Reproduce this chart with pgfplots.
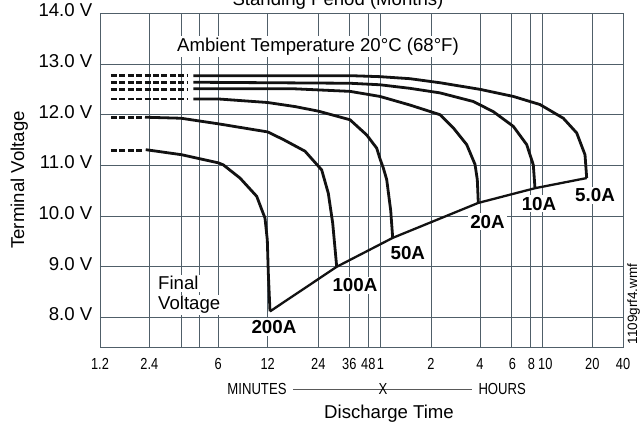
\documentclass[border=0pt]{standalone}
\usepackage{pgfplots}
\pgfplotsset{compat=1.18}
\usepackage{fontspec}
\setmainfont{Liberation Sans}
\newfontfamily\narrowfont[FakeStretch=0.82]{Liberation Sans}
\newfontfamily\tickfont[FakeStretch=0.8]{Liberation Sans}
\definecolor{gridc}{RGB}{80,95,105}
\definecolor{curve}{RGB}{18,18,18}
\newcommand\lbl{\fontsize{18.6bp}{22bp}\selectfont}
\newcommand\lblb{\fontsize{18.8bp}{22bp}\selectfont\bfseries}
\newcommand\tck{\tickfont\fontsize{16bp}{19bp}\selectfont}
\newcommand\mh{\narrowfont\fontsize{16bp}{19bp}\selectfont}
\pgfplotsset{
  crv/.style={curve, line width=2.8bp, line join=round, no marks},
  lead/.style={curve, line width=2.7bp, no marks, dash pattern=on 6bp off 2.4bp},
}
\begin{document}
\begin{tikzpicture}
\begin{axis}[
  scale only axis, width=523bp, height=334.6bp,
  xmin=0, xmax=523, ymin=7.4, ymax=14,
  axis line style={gridc, line width=0.9bp},
  xtick={0,49.3,81,99,118.3,167.7,218.3,249.3,268.3,280.5,331,380,411.5,430.5,442.3,492.3,523},
  xticklabels={1.2,2.4,,,6,12,24,36,48,1,2,4,{\kern2bp 6},{\kern2bp 8},{\kern6bp 10},20,40},
  ytick={8,9,10,11,12,13,14},
  yticklabels={8.0 V,9.0 V,10.0 V,11.0 V,12.0 V,13.0 V,14.0 V},
  major tick length=0pt,
  grid=major,
  major grid style={gridc, line width=0.9bp},
  /pgf/number format/assume math mode=true,
  xticklabel style={font=\tck, anchor=north, inner sep=0pt, yshift=-10.2bp},
  yticklabel style={font=\lbl, anchor=east, inner sep=0pt, xshift=-7.5bp, yshift=3bp},
  clip=false,
  xlabel={Discharge Time}, ylabel={Terminal Voltage},
  xlabel style={at={(axis description cs:0.5526,-0.2118)}, anchor=base, font=\lbl, inner sep=0pt},
  ylabel style={at={(axis description cs:-0.1453,0.5018)}, anchor=base, font=\lbl, inner sep=0pt},
]
% dashed lead-ins (standing period)
\addplot[lead] coordinates {(11,12.77) (87.7,12.77)};
\addplot[lead] coordinates {(11,12.64) (87.7,12.64)};
\addplot[lead] coordinates {(11,12.50) (87.7,12.50)};
\addplot[lead] coordinates {(11,12.31) (87.7,12.31)};
\addplot[lead] coordinates {(11,11.95) (41.7,11.95)};
\addplot[lead] coordinates {(11,11.30) (41.7,11.30)};
% 5.0A
\addplot[crv] coordinates {(93.3,12.77) (190,12.77) (250,12.77) (280,12.75) (310,12.71) (340,12.63) (380,12.50) (413.3,12.36) (440,12.20) (463.3,11.93) (476.7,11.64) (485,11.21) (486.7,10.75)};
% 10A
\addplot[crv] coordinates {(93.3,12.64) (250,12.62) (280,12.59) (310,12.52) (340,12.43) (373.3,12.26) (393.3,12.06) (413.3,11.77) (426.7,11.41) (433.3,11.01) (435,10.55)};
% 20A
\addplot[crv] coordinates {(93.3,12.51) (195,12.51) (250,12.46) (280,12.36) (310,12.19) (340,12.00) (353.3,11.74) (366.7,11.41) (375,11.02) (377.3,10.72) (378.3,10.26)};
% 50A
\addplot[crv] coordinates {(93.3,12.31) (118.3,12.31) (167.7,12.24) (195,12.16) (218.3,12.07) (250,11.90) (266.7,11.60) (276.7,11.34) (280,11.13) (283.3,10.95) (286.7,10.72) (290.7,10.11) (292.7,9.57)};
% 100A
\addplot[crv] coordinates {(45,11.95) (81,11.93) (118.3,11.82) (167.7,11.66) (183.3,11.51) (205,11.28) (221.7,10.91) (228.3,10.45) (232.7,9.86) (236.7,9.00)};
% 200A
\addplot[crv] coordinates {(45.7,11.31) (81.7,11.21) (118.3,11.05) (123.3,11.01) (140,10.75) (156.7,10.39) (165,9.96) (167.3,9.53) (168.3,8.88) (170,8.12)};
% final voltage
\addplot[crv, line width=2.3bp] coordinates {(170,8.12) (236.7,9.00) (292.7,9.57) (378.3,10.26) (435,10.55) (486.7,10.75)};

% annotations
\node[font=\lbl, anchor=base, fill=white, inner sep=2bp] at (218,13.256) {Ambient Temperature 20°C (68°F)};
\node[font=\lbl, anchor=base] at (238,14.148) {Standing Period (Months)};
\node[font=\lbl, anchor=base west, fill=white, inner sep=1.5bp] at (56.5,8.542) {Final};
\node[font=\lbl, anchor=base west, fill=white, inner sep=1.5bp] at (56.5,8.148) {Voltage};
\node[font=\lblb, anchor=base, fill=white, inner sep=2bp] at (174,7.684) {200A};
\node[font=\lblb, anchor=base, fill=white, inner sep=2bp] at (255,8.503) {100A};
\node[font=\lblb, anchor=base, fill=white, inner sep=2bp] at (307.8,9.134) {50A};
\node[font=\lblb, anchor=base, fill=white, inner sep=2bp] at (387.5,9.759) {20A};
\node[font=\lblb, anchor=base, fill=white, inner sep=2bp] at (439,10.116) {10A};
\node[font=\lblb, anchor=base, fill=white, inner sep=2bp] at (495,10.284) {5.0A};
\node[font=\mh, anchor=east, inner sep=0pt] at (186.7,6.59) {MINUTES};
\draw[gray!70!black, line width=0.7bp] (193,6.59) -- (371.7,6.59);
\node[font=\mh, inner sep=0pt] at (283,6.59) {X};
\node[font=\mh, anchor=west, inner sep=0pt] at (378.3,6.59) {HOURS};
\node[font=\fontsize{13.5bp}{16bp}\selectfont, rotate=90, anchor=base, inner sep=0pt] at (537,8.266) {1109grf4.wmf};
\coordinate (bl) at (-100,5.9187);
\coordinate (tr) at (540,14.2623);
\end{axis}
\pgfresetboundingbox
\path[use as bounding box] (bl) rectangle (tr);
\end{tikzpicture}
\end{document}
